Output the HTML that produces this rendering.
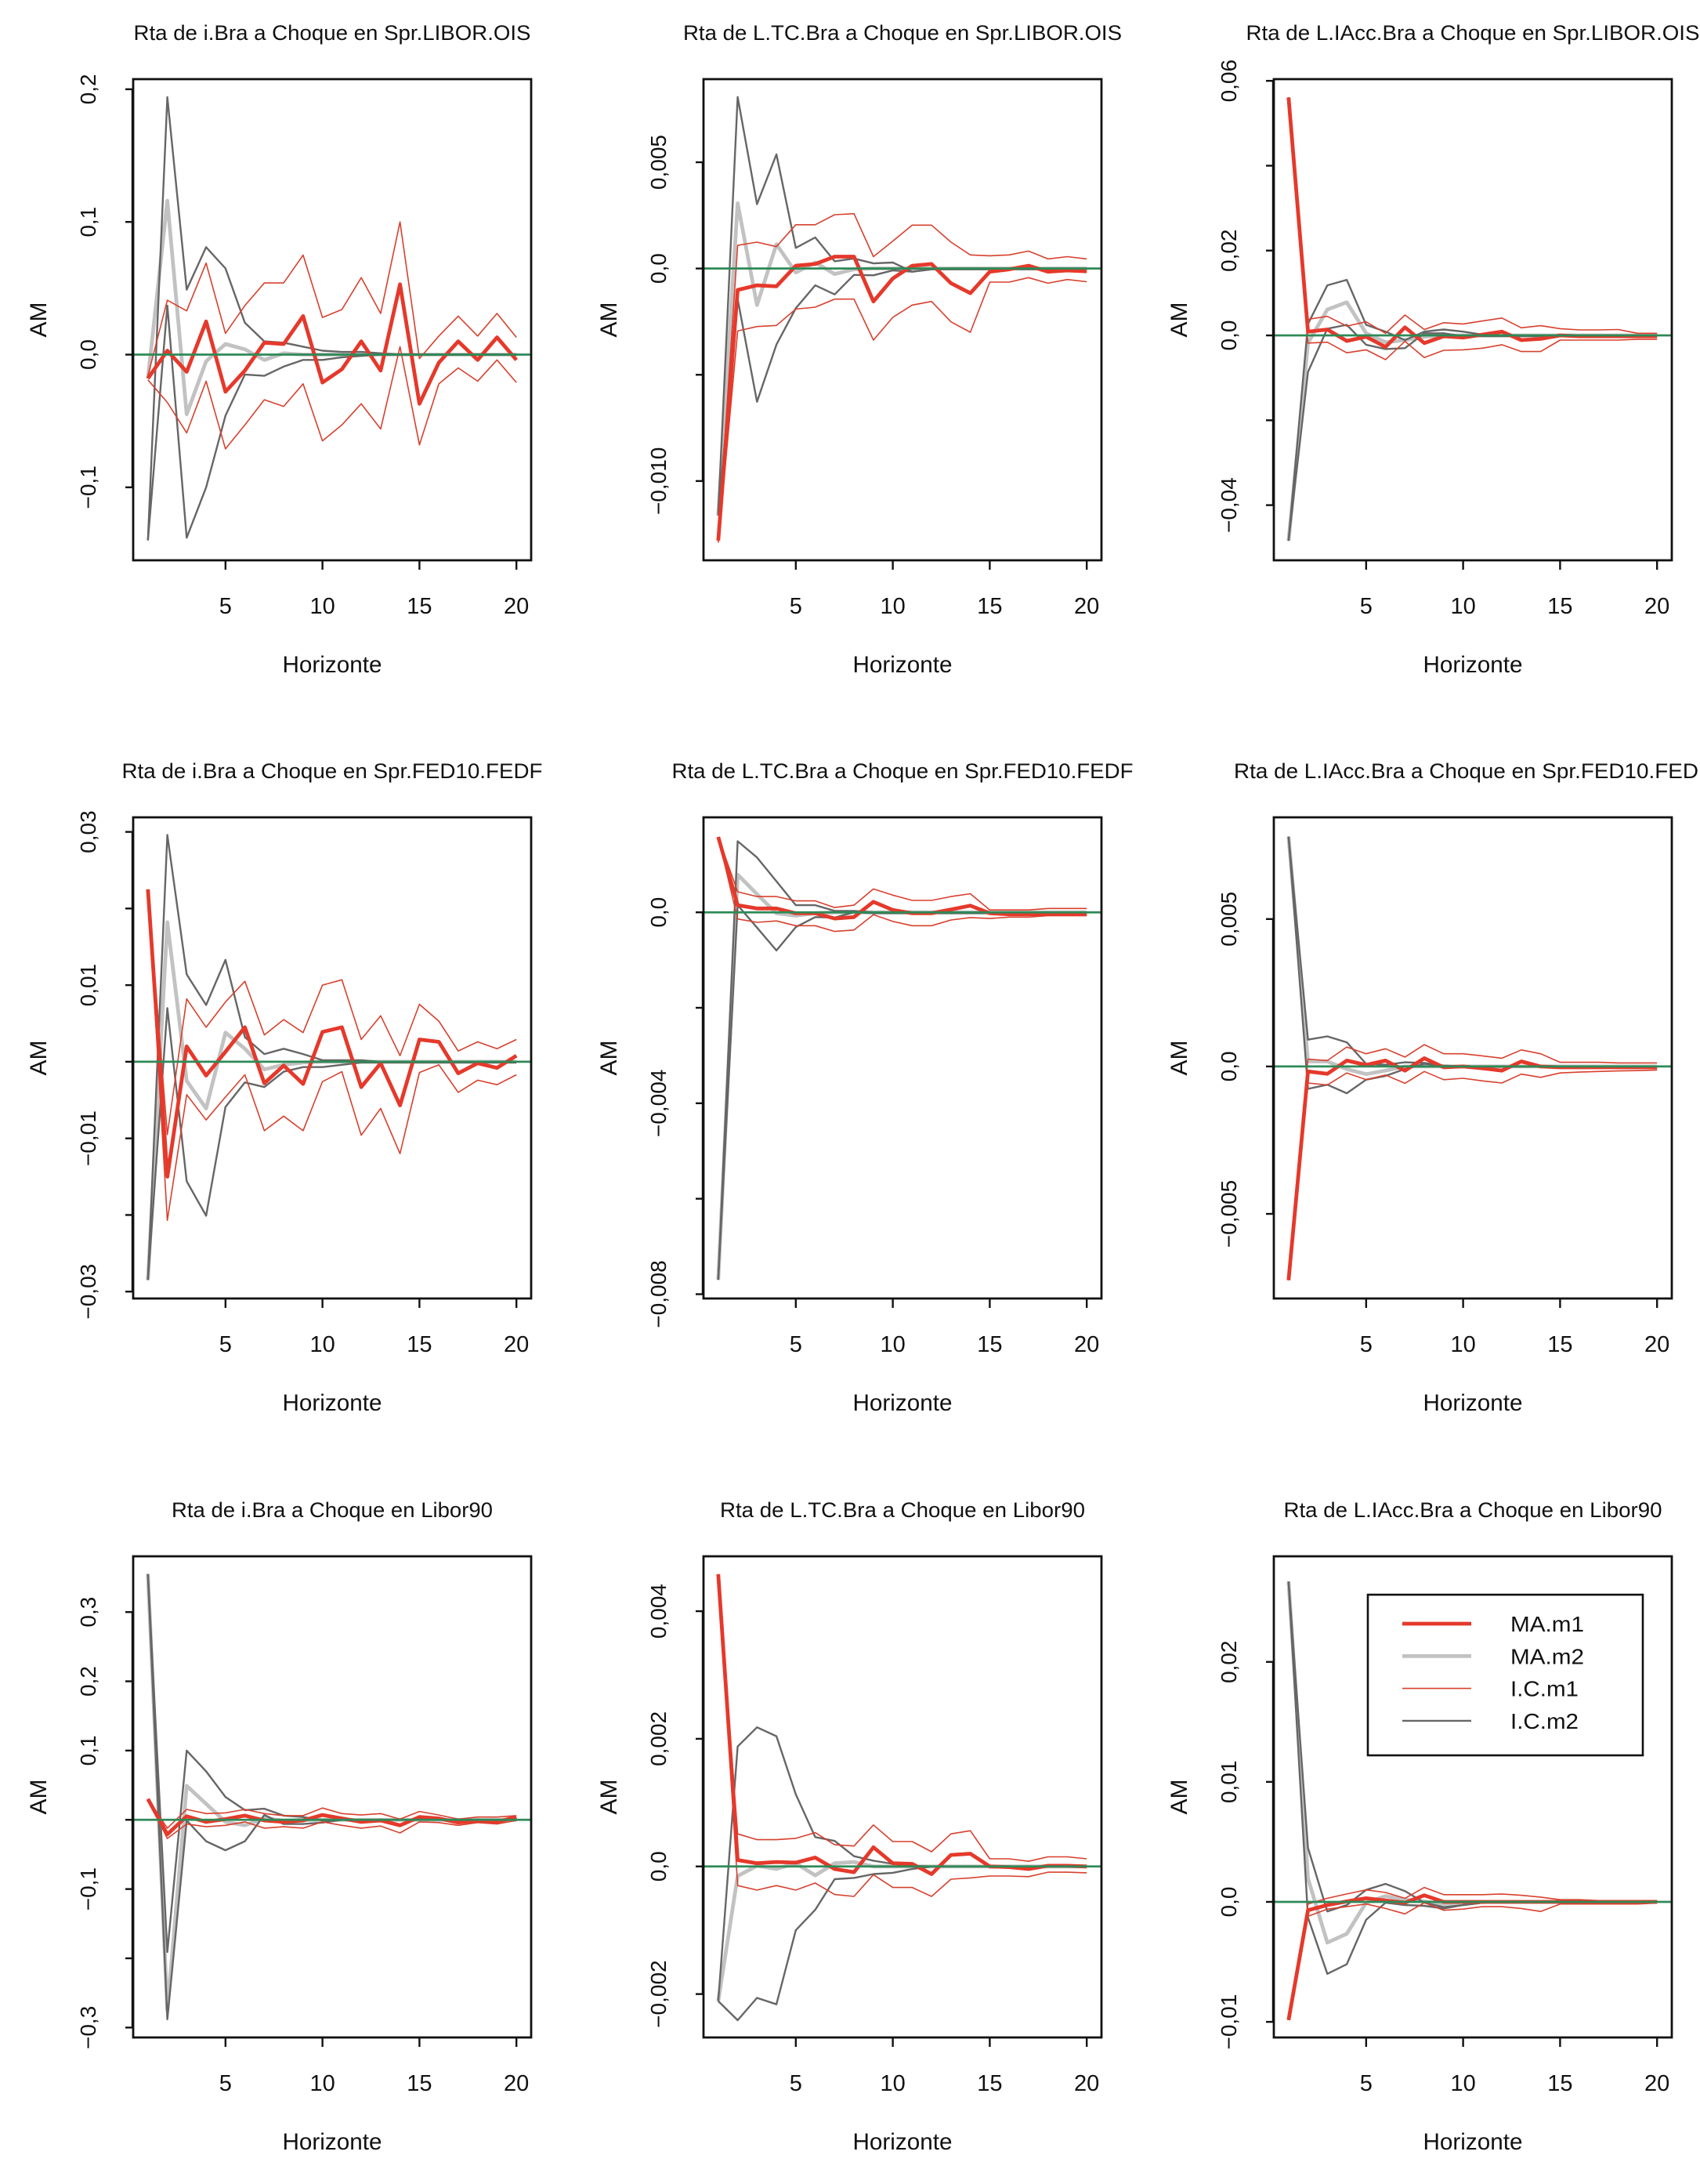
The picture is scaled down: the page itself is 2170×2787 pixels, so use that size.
<!DOCTYPE html>
<html><head><meta charset="utf-8"><title>Respuestas</title>
<style>html,body{margin:0;padding:0;background:#fff}svg{display:block}text{font-family:"Liberation Sans",Arial,sans-serif;fill:#111}</style>
</head><body>
<svg id="chart" width="2170" height="2787" viewBox="0 0 2170 2787" xmlns="http://www.w3.org/2000/svg"></svg>
<script>
const horizons = [1,2,3,4,5,6,7,8,9,10,11,12,13,14,15,16,17,18,19,20];
const xTicks = [5,10,15,20];
const seriesNames = ["MA.m1","MA.m2","I.C.m1","I.C.m2"];

const p1_ma1=[-0.018,0.003,-0.013,0.025,-0.028,-0.012,0.009,0.008,0.029,-0.021,-0.011,0.010,-0.012,0.053,-0.037,-0.006,0.010,-0.004,0.013,-0.004];
const p1_ma2=[-0.018,0.116,-0.045,-0.005,0.008,0.004,-0.004,0.001,0,0,0,0,0,0,0,0,0,0,0,0];
const p1_ic1u=[-0.016,0.041,0.033,0.069,0.016,0.037,0.054,0.054,0.075,0.028,0.034,0.058,0.031,0.100,-0.003,0.014,0.029,0.014,0.031,0.013];
const p1_ic1l=[-0.019,-0.036,-0.059,-0.020,-0.071,-0.053,-0.034,-0.039,-0.022,-0.065,-0.053,-0.037,-0.056,0.006,-0.068,-0.022,-0.010,-0.020,-0.004,-0.021];
const p1_ic2u=[-0.140,0.194,0.049,0.081,0.065,0.024,0.010,0.009,0.006,0.003,0.002,0.002,0.001,0,0,0,0,0,0,0];
const p1_ic2l=[-0.140,0.037,-0.138,-0.100,-0.046,-0.015,-0.016,-0.009,-0.004,-0.004,-0.002,-0.001,0,0,0,0,0,0,0,0];

const p2_ma1=[-0.0128,-0.00101,-0.00079,-0.00084,0.00013,0.00021,0.00056,0.00056,-0.00155,-0.00047,0.00013,0.00021,-0.00069,-0.00116,-0.00015,-0.00004,0.00013,-0.00015,-0.00009,-0.00013];
const p2_ma2=[-0.01163,0.00307,-0.00172,0.00114,-0.00019,0.00028,-0.00026,-0.00004,0,0,0,0,0,0,0,0,0,0,0,0];
const p2_ic1u=[-0.0127,0.00109,0.00124,0.00103,0.00206,0.00206,0.00253,0.00258,0.00056,0.00129,0.00204,0.00204,0.00124,0.00064,0.0006,0.00064,0.00082,0.00045,0.00056,0.00045];
const p2_ic1l=[-0.0129,-0.00294,-0.00273,-0.00268,-0.00191,-0.00182,-0.00144,-0.00144,-0.00337,-0.0023,-0.00172,-0.00155,-0.00251,-0.003,-0.00064,-0.00064,-0.00043,-0.00069,-0.00052,-0.00062];
const p2_ic2u=[-0.01152,0.00807,0.00303,0.00537,0.00097,0.00146,0.00034,0.00047,0.00024,0.00028,-0.00015,-0.00004,0,0,0,0,0,0,0,0];
const p2_ic2l=[-0.01163,-0.00144,-0.00627,-0.00358,-0.00187,-0.00079,-0.00122,-0.0003,-0.00032,-0.00009,-0.00015,-0.00004,-0.00004,-0.00004,-0.00004,-0.00004,-0.00004,-0.00004,-0.00004,-0.00004];

const p3_ma1=[0.0561,0.0009,0.0014,-0.0013,-0.0003,-0.0027,0.0019,-0.0018,-0.0002,-0.0005,0.0002,0.0009,-0.0011,-0.0008,0,-0.0002,-0.0002,-0.0002,-0.0002,-0.0002];
const p3_ma2=[-0.0484,-0.0018,0.0061,0.0078,0.0005,-0.0016,-0.0011,-0.0003,0,0,0,0,0,0,0,0,0,0,0,0];
const p3_ic1u=[0.0561,0.0038,0.0045,0.0022,0.0032,0.0005,0.0048,0.0014,0.003,0.0027,0.0034,0.0041,0.0018,0.0023,0.0016,0.0013,0.0013,0.0014,0.0005,0.0005];
const p3_ic1l=[0.0561,-0.0018,-0.0016,-0.0041,-0.0034,-0.0057,-0.0014,-0.0052,-0.0035,-0.0034,-0.003,-0.0022,-0.0038,-0.0038,-0.0011,-0.0011,-0.0011,-0.0011,-0.0009,-0.0009];
const p3_ic2u=[-0.0484,0.0027,0.0118,0.0131,0.0025,0.0009,-0.0011,0.0009,0.0014,0.0009,0.0002,0,0,0,0,0,0,0,0,0];
const p3_ic2l=[-0.0484,-0.0086,0.0016,0.0025,-0.0022,-0.0032,-0.003,0.0005,0.0005,-0.0002,-0.0002,-0.0002,-0.0002,-0.0002,-0.0002,-0.0002,-0.0002,-0.0002,-0.0002,-0.0002];

const p4_ma1=[0.0225,-0.015,0.002,-0.0018,0.0013,0.0045,-0.0028,-0.0005,-0.0029,0.0039,0.0045,-0.0033,-0.0002,-0.0057,0.0029,0.0026,-0.0015,-0.0002,-0.0008,0.0008];
const p4_ma2=[-0.0285,0.0182,-0.0025,-0.0061,0.0038,0.0017,-0.001,-0.0004,-0.0001,0,0,0,0,0,0,0,0,0,0,0];
const p4_ic1u=[0.0225,-0.0095,0.0082,0.0045,0.0078,0.0105,0.0035,0.0055,0.0038,0.01,0.0107,0.0029,0.006,0.0008,0.0075,0.0053,0.0014,0.0026,0.0017,0.0029];
const p4_ic1l=[0.0225,-0.0207,-0.0043,-0.0076,-0.0046,-0.0017,-0.009,-0.0071,-0.009,-0.0026,-0.0013,-0.0096,-0.0061,-0.012,-0.0014,-0.0004,-0.004,-0.0024,-0.003,-0.0017];
const p4_ic2u=[-0.0285,0.0296,0.0114,0.0074,0.0133,0.0032,0.001,0.0017,0.001,0.0002,0.0002,0.0002,0,0,0,0,0,0,0,0];
const p4_ic2l=[-0.0285,0.007,-0.0156,-0.0201,-0.0059,-0.0027,-0.0033,-0.0013,-0.0007,-0.0007,-0.0004,-0.0001,-0.0001,-0.0001,-0.0001,-0.0001,-0.0001,-0.0001,-0.0001,-0.0001];

const p5_ma1=[0.00158,0.00015,0.00008,0.00008,-0.00002,-0.00002,-0.00013,-0.0001,0.00022,0.00005,-0.00002,-0.00002,0.00006,0.00014,-0.00002,-0.00004,-0.00004,-0.00004,-0.00004,-0.00004];
const p5_ma2=[-0.0077,0.00079,0.00038,-0.00002,-0.00007,-0.00002,0,0,0,0,0,0,0,0,0,0,0,0,0,0];
const p5_ic1u=[0.00158,0.00043,0.00033,0.00033,0.00024,0.00024,0.0001,0.00015,0.00049,0.00036,0.00025,0.00025,0.00033,0.00039,0.00005,0.00005,0.00005,0.00008,0.00008,0.00008];
const p5_ic1l=[0.00158,-0.00014,-0.00021,-0.00018,-0.00028,-0.00028,-0.0004,-0.00037,-0.00005,-0.00019,-0.00028,-0.00028,-0.00016,-0.00011,-0.00013,-0.0001,-0.0001,-0.00007,-0.00007,-0.00007];
const p5_ic2u=[-0.0077,0.00149,0.00115,0.00065,0.00015,0.00015,0.00003,0.00003,0,0,0,0,0,0,0,0,0,0,0,0];
const p5_ic2l=[-0.0077,0.00015,-0.00032,-0.0008,-0.00031,-0.0001,-0.00011,0,-0.00002,-0.00002,-0.00002,-0.00002,-0.00002,-0.00002,-0.00002,-0.00002,-0.00002,-0.00002,-0.00002,-0.00002];

const p6_ma1=[-0.00725,-0.00017,-0.00025,0.0002,0.00005,0.0002,-0.00014,0.00028,-0.00003,0,-0.00006,-0.00014,0.00017,0,-0.00003,-0.00003,-0.00003,-0.00003,-0.00003,-0.00003];
const p6_ma2=[0.0078,0.00017,0.00017,-0.00009,-0.00026,-0.00014,0,0,0,0,0,0,0,0,0,0,0,0,0,0];
const p6_ic1u=[-0.00725,0.00025,0.0002,0.00066,0.00043,0.0006,0.00032,0.00074,0.00043,0.00043,0.00036,0.00028,0.00056,0.00043,0.00014,0.00014,0.00014,0.00012,0.00012,0.00012];
const p6_ic1l=[-0.00725,-0.00056,-0.00063,-0.00022,-0.00045,-0.00029,-0.00057,-0.00017,-0.00045,-0.0004,-0.00049,-0.00056,-0.00026,-0.00037,-0.00022,-0.00019,-0.00017,-0.00015,-0.00014,-0.00012];
const p6_ic2u=[0.0078,0.00091,0.00102,0.00082,0.00009,0.00006,0.00014,0.00012,0.00003,0,0,0,0,0,0,0,0,0,0,0];
const p6_ic2l=[0.0078,-0.00076,-0.00062,-0.00091,-0.00045,-0.00032,-0.00009,0.00009,0.00003,0,0,0,0,0,0,0,0,0,0,0];

const p7_ma1=[0.030,-0.021,0.005,-0.003,0.001,0.006,-0.001,-0.003,-0.001,0.007,0.002,-0.003,-0.001,-0.008,0.004,0.002,-0.004,-0.001,-0.003,0.004];
const p7_ma2=[0.355,-0.275,0.049,0.023,-0.003,-0.008,0.002,-0.001,0,0,0,0,0,0,0,0,0,0,0,0];
const p7_ic1u=[0.030,-0.012,0.015,0.009,0.01,0.015,0.009,0.006,0.006,0.017,0.009,0.007,0.009,0.001,0.012,0.007,0.001,0.004,0.004,0.006];
const p7_ic1l=[0.030,-0.027,-0.006,-0.01,-0.008,-0.003,-0.012,-0.01,-0.012,-0.003,-0.008,-0.012,-0.009,-0.019,-0.003,-0.004,-0.008,-0.004,-0.006,-0.001];
const p7_ic2u=[0.355,-0.191,0.1,0.07,0.033,0.014,0.016,0.006,0.004,-0.001,0,0,0,0,0,0,0,0,0,0];
const p7_ic2l=[0.355,-0.288,-0.001,-0.031,-0.044,-0.031,0.007,-0.006,-0.006,-0.004,0,0,0,0,0,0,0,0,0,0];

const p8_ma1=[0.00458,0.0001,0.00005,0.00007,0.00006,0.00014,-0.00004,-0.00009,0.0003,0.00005,0.00004,-0.00012,0.00018,0.0002,0,-0.00001,-0.00004,0.00001,0.00001,0];
const p8_ma2=[-0.00211,-0.00015,0.00001,-0.00004,0.00005,-0.00014,0.00005,0.00007,0,0,0,0,0,0,0,0,0,0,0,0];
const p8_ic1u=[0.00458,0.00051,0.00042,0.00042,0.00044,0.00053,0.00034,0.00032,0.00065,0.00039,0.00039,0.00023,0.00051,0.00056,0.00012,0.00012,0.00008,0.00015,0.00015,0.00012];
const p8_ic1l=[0.00458,-0.0003,-0.00037,-0.0003,-0.00037,-0.00026,-0.00044,-0.00047,-0.00013,-0.00033,-0.00033,-0.00047,-0.0002,-0.00018,-0.00015,-0.00015,-0.00016,-0.00009,-0.00009,-0.0001];
const p8_ic2u=[-0.00211,0.00188,0.00218,0.00204,0.00113,0.00046,0.0004,0.00016,0.00009,0.00004,0.00001,0,0,0,0,0,0,0,0,0];
const p8_ic2l=[-0.00211,-0.00241,-0.00206,-0.00216,-0.001,-0.00068,-0.0002,-0.00018,-0.00012,-0.0001,-0.00004,0,0,0,0,0,0,0,0,0];

const p9_ma1=[-0.00985,-0.0007,-0.00026,0.00004,0.0003,0.00011,-0.00007,0.00055,0,0,0,0,0,0,0,0,0,0,0,0];
const p9_ma2=[0.0267,0.00196,-0.0034,-0.00266,-0.00007,0.00048,0.00018,0.00004,-0.00018,0,0,0,0,0,0,0,0,0,0,0];
const p9_ic1u=[-0.00985,-0.00018,0.0003,0.00066,0.001,0.00078,0.0003,0.0012,0.0006,0.0006,0.0006,0.00066,0.00055,0.0004,0.00018,0.00018,0.00011,0.00011,0.00011,0.00011];
const p9_ic1l=[-0.00985,-0.0012,-0.0006,-0.0004,-0.00018,-0.00055,-0.001,-0.00007,-0.0007,-0.0006,-0.0004,-0.0004,-0.00055,-0.0008,-0.00018,-0.00018,-0.00018,-0.00018,-0.00018,-0.0001];
const p9_ic2u=[0.0267,0.0045,-0.0008,-0.00026,0.001,0.0015,0.0009,-0.00007,-0.00044,-0.00026,-0.00007,0,0,0,0,0,0,0,0,0];
const p9_ic2l=[0.0267,-0.0013,-0.006,-0.0052,-0.0015,-0.00007,-0.00026,-0.00033,-0.00055,-0.00026,-0.00007,0,0,0,0,0,0,0,0,0];

const titles=["Rta de i.Bra a Choque en Spr.LIBOR.OIS","Rta de L.TC.Bra a Choque en Spr.LIBOR.OIS","Rta de L.IAcc.Bra a Choque en Spr.LIBOR.OIS",
"Rta de i.Bra a Choque en Spr.FED10.FEDF","Rta de L.TC.Bra a Choque en Spr.FED10.FEDF","Rta de L.IAcc.Bra a Choque en Spr.FED10.FEDF",
"Rta de i.Bra a Choque en Libor90","Rta de L.TC.Bra a Choque en Libor90","Rta de L.IAcc.Bra a Choque en Libor90"];
const yTickVals=[[-0.1,0,0.1,0.2],[-0.01,-0.005,0,0.005],[-0.04,-0.02,0,0.02,0.04,0.06],
[-0.03,-0.02,-0.01,0,0.01,0.02,0.03],[-0.008,-0.006,-0.004,-0.002,0],[-0.005,0,0.005],
[-0.3,-0.2,-0.1,0,0.1,0.2,0.3],[-0.002,0,0.002,0.004],[-0.01,0,0.01,0.02]];
const yTickLabels=[["−0,1","0,0","0,1","0,2"],["−0,010","","0,0","0,005"],["−0,04","","0,0","0,02","","0,06"],
["−0,03","","−0,01","","0,01","","0,03"],["−0,008","","−0,004","","0,0"],["−0,005","0,0","0,005"],
["−0,3","","−0,1","","0,1","0,2","0,3"],["−0,002","0,0","0,002","0,004"],["−0,01","0,0","0,01","0,02"]];
const yLimits=[[-0.155,0.2076],[-0.01373,0.00891],[-0.053,0.0604],[-0.0309,0.0319],[-0.00809,0.00199],[-0.00787,0.00845],[-0.3143,0.3805],[-0.00268,0.00486],[-0.0113,0.0288]];
const panelData=[
[p1_ma1,p1_ma2,p1_ic1u,p1_ic1l,p1_ic2u,p1_ic2l],[p2_ma1,p2_ma2,p2_ic1u,p2_ic1l,p2_ic2u,p2_ic2l],[p3_ma1,p3_ma2,p3_ic1u,p3_ic1l,p3_ic2u,p3_ic2l],
[p4_ma1,p4_ma2,p4_ic1u,p4_ic1l,p4_ic2u,p4_ic2l],[p5_ma1,p5_ma2,p5_ic1u,p5_ic1l,p5_ic2u,p5_ic2l],[p6_ma1,p6_ma2,p6_ic1u,p6_ic1l,p6_ic2u,p6_ic2l],
[p7_ma1,p7_ma2,p7_ic1u,p7_ic1l,p7_ic2u,p7_ic2l],[p8_ma1,p8_ma2,p8_ic1u,p8_ic1l,p8_ic2u,p8_ic2l],[p9_ma1,p9_ma2,p9_ic1u,p9_ic1l,p9_ic2u,p9_ic2l]];

const NS="http://www.w3.org/2000/svg";
const svg=document.getElementById('chart');
function mk(tag,attrs,parent){const e=document.createElementNS(NS,tag);for(const k in attrs)e.setAttribute(k,attrs[k]);(parent||svg).appendChild(e);return e;}
const rowTop=[101,1043,1986], rowBot=[715,1657,2600];
const titleW=[507,560,579,537,589,610,410,466,483];
const RED="#e5392b", THINRED="#d8402e", LGREY="#c2c2c2", DGREY="#666666", GREEN="#2e8a57";
const styleOf=[[RED,4.8],[LGREY,4.8],[THINRED,1.6],[THINRED,1.6],[DGREY,2.4],[DGREY,2.4]];
const seriesKey=["ma-m1","ma-m2","ic-m1-upper","ic-m1-lower","ic-m2-upper","ic-m2-lower"];
const drawOrder=[1,4,5,2,3,0];

for(let p=0;p<9;p++){
  const c=p%3, r=Math.floor(p/3);
  const L=170+728*c, R=L+508, T=rowTop[r], B=rowBot[r];
  const g=mk('g',{});
  
  
  const xs=v=>L+(v-0.24)/(20.76-0.24)*(R-L);
  const [y0,y1]=yLimits[p];
  const ys=v=>B-(v-y0)/(y1-y0)*(B-T);
  const t=mk('text',{x:(L+R)/2,y:T-50,'text-anchor':'middle','font-size':27,textLength:titleW[p],lengthAdjust:'spacingAndGlyphs'},g);
  t.textContent=titles[p];
  
  
  const clip=mk('clipPath',{id:'clip'+p},g);
  mk('rect',{x:L,y:T,width:R-L,height:B-T},clip);
  const lines=mk('g',{'clip-path':'url(#clip'+p+')'},g);
  for(const si of drawOrder){
    const arr=panelData[p][si];
    const pts=horizons.map((h,i)=>xs(h).toFixed(1)+','+ys(arr[i]).toFixed(1)).join(' ');
    const pl=mk('polyline',{points:pts,fill:'none',stroke:styleOf[si][0],'stroke-width':styleOf[si][1],'stroke-linejoin':'round'},lines);
    
    
  }
  const zl=mk('line',{x1:L,x2:R,y1:ys(0),y2:ys(0),stroke:GREEN,'stroke-width':2.8},g);
  
  
  const box=mk('rect',{x:L,y:T,width:R-L,height:B-T,fill:'none',stroke:'#111','stroke-width':2.8},g);
  
  
  for(const v of xTicks){
    mk('line',{x1:xs(v),x2:xs(v),y1:B,y2:B+12,stroke:'#111','stroke-width':2.4},g);
    const tl=mk('text',{x:xs(v),y:B+68,'text-anchor':'middle','font-size':29},g);
    tl.textContent=v;
    
    
  }
  const xt=mk('text',{x:(L+R)/2,y:B+143,'text-anchor':'middle','font-size':30,textLength:127,lengthAdjust:'spacingAndGlyphs'},g);
  xt.textContent='Horizonte';
  
  
  const tv=yTickVals[p];
  mk('line',{x1:L-1,x2:L-1,y1:ys(tv[0]),y2:ys(tv[tv.length-1]),stroke:'#111','stroke-width':2.4},g);
  tv.forEach((v,i)=>{
    mk('line',{x1:L-10,x2:L,y1:ys(v),y2:ys(v),stroke:'#111','stroke-width':2.4},g);
    if(yTickLabels[p][i]){
      const yl=mk('text',{x:0,y:0,'text-anchor':'middle','font-size':28,transform:'translate('+(L-48)+','+ys(v)+') rotate(-90)'},g);
      yl.textContent=yTickLabels[p][i];
      
      
    }
  });
  const yt=mk('text',{x:0,y:0,'text-anchor':'middle','font-size':30,transform:'translate('+(L-111)+','+((T+B)/2)+') rotate(-90)'},g);
  yt.textContent='AM';
  
  
}
const lg=mk('g',{});


mk('rect',{x:1746,y:2035,width:351,height:205,fill:'#fff',stroke:'#111','stroke-width':2.6},lg);
const legStyle=[[RED,4.8],[LGREY,4.8],[THINRED,1.6],[DGREY,2.4]];
seriesNames.forEach((n,i)=>{
  const y=2072+i*41.3;
  const ln=mk('line',{x1:1790,x2:1878,y1:y,y2:y,stroke:legStyle[i][0],'stroke-width':legStyle[i][1]},lg);
  
  
  const tx=mk('text',{x:1928,y:y+10,'font-size':28,textLength:(i<2?94:87),lengthAdjust:'spacingAndGlyphs'},lg);
  tx.textContent=n;
  
  
});
</script>
</body></html>
